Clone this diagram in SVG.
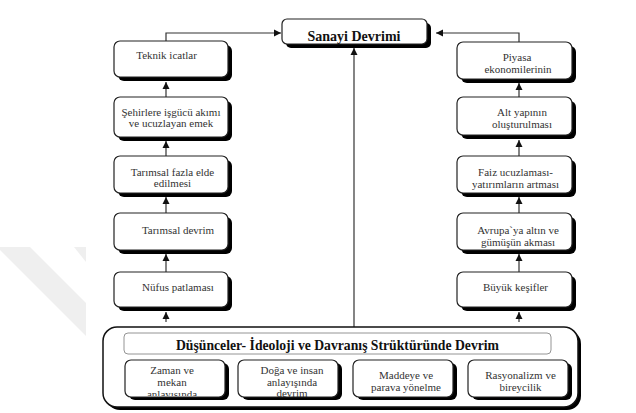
<svg xmlns="http://www.w3.org/2000/svg" width="636" height="413" viewBox="0 0 636 413">
<style>
.sh{fill:#000}
.bx{fill:#fff;stroke:#222;stroke-width:1.2}
text{font-family:"Liberation Serif","Times New Roman",serif}
.t{font-size:11px;fill:#333;text-anchor:middle}
.tb{font-weight:bold;fill:#111;text-anchor:middle}
.c{fill:none;stroke:#333;stroke-width:1.2}
</style>
<defs>
<marker id="ah" markerUnits="userSpaceOnUse" markerWidth="8" markerHeight="8" refX="7" refY="4" orient="auto">
<path d="M0,0.5 L7,4 L0,7.5 Z" fill="#111"/>
</marker>
<clipPath id="clipZ"><rect x="125" y="360" width="100" height="36"/></clipPath>
</defs>
<rect width="636" height="413" fill="#fff"/>
<g id="watermark" fill="#efefef">
<polygon points="0,247 30,247 86,303 86,336 0,250"/>
<polygon points="74,247 86,247 86,262"/>
</g>

<g id="connectors">
<path class="c" d="M166,41 V33 H281" marker-end="url(#ah)"/>
<path class="c" d="M519,42 V33 H436" marker-end="url(#ah)"/>
<path class="c" d="M354,327 V48" marker-end="url(#ah)"/>
<path class="c" d="M166,97 V82" marker-end="url(#ah)"/>
<path class="c" d="M166,156 V141" marker-end="url(#ah)"/>
<path class="c" d="M166,213 V197" marker-end="url(#ah)"/>
<path class="c" d="M166,272 V254" marker-end="url(#ah)"/>
<path class="c" d="M166,322 V312" marker-end="url(#ah)"/>
<path class="c" d="M519,97 V83" marker-end="url(#ah)"/>
<path class="c" d="M519,156 V140" marker-end="url(#ah)"/>
<path class="c" d="M519,213 V197" marker-end="url(#ah)"/>
<path class="c" d="M519,272 V254" marker-end="url(#ah)"/>
<path class="c" d="M519,322 V312" marker-end="url(#ah)"/>
</g>

<g id="sanayi">
<rect class="sh" x="286" y="23" width="145" height="25" rx="5"/>
<rect class="bx" x="282" y="19" width="145" height="25" rx="5"/>
<text class="tb" x="354" y="41" font-size="14">Sanayi Devrimi</text>
</g>

<g id="teknik">
<rect class="sh" x="118" y="45" width="114" height="36" rx="6"/>
<rect class="bx" x="114" y="41" width="114" height="36" rx="6"/>
<text class="t" x="166.5" y="59">Teknik icatlar</text>
</g>
<g id="sehirlere">
<rect class="sh" x="118" y="101" width="114" height="40" rx="6"/>
<rect class="bx" x="114" y="97" width="114" height="40" rx="6"/>
<text class="t" x="171" y="116" font-size="9">Şehirlere işgücü akımı</text>
<text class="t" x="171" y="127" font-size="9">ve ucuzlayan emek</text>
</g>
<g id="tarimsal-fazla">
<rect class="sh" x="118" y="160" width="114" height="37" rx="6"/>
<rect class="bx" x="114" y="156" width="114" height="37" rx="6"/>
<text class="t" x="172.5" y="176">Tarımsal fazla elde</text>
<text class="t" x="172.5" y="187">edilmesi</text>
</g>
<g id="tarimsal-devrim">
<rect class="sh" x="118" y="217" width="114" height="37" rx="6"/>
<rect class="bx" x="114" y="213" width="114" height="37" rx="6"/>
<text class="t" x="178" y="234">Tarımsal devrim</text>
</g>
<g id="nufus">
<rect class="sh" x="118" y="276" width="114" height="35" rx="6"/>
<rect class="bx" x="114" y="272" width="114" height="35" rx="6"/>
<text class="t" x="178" y="291">Nüfus patlaması</text>
</g>

<g id="piyasa">
<rect class="sh" x="461" y="46" width="115" height="37" rx="6"/>
<rect class="bx" x="457" y="42" width="115" height="37" rx="6"/>
<text class="t" x="517" y="61">Piyasa</text>
<text class="t" x="518" y="73">ekonomilerinin</text>
</g>
<g id="altyapi">
<rect class="sh" x="461" y="101" width="115" height="38" rx="6"/>
<rect class="bx" x="457" y="97" width="115" height="38" rx="6"/>
<text class="t" x="522" y="116" font-size="10.5">Alt yapının</text>
<text class="t" x="522" y="127.5" font-size="10.5">oluşturulması</text>
</g>
<g id="faiz">
<rect class="sh" x="461" y="160" width="115" height="37" rx="6"/>
<rect class="bx" x="457" y="156" width="115" height="37" rx="6"/>
<text class="t" x="515.5" y="176" font-size="10.5">Faiz ucuzlaması-</text>
<text class="t" x="515.5" y="187.5" font-size="10.5">yatırımların artması</text>
</g>
<g id="avrupa">
<rect class="sh" x="461" y="217" width="115" height="37" rx="6"/>
<rect class="bx" x="457" y="213" width="115" height="37" rx="6"/>
<text class="t" x="518" y="234">Avrupa`ya altın ve</text>
<text class="t" x="518" y="245.5">gümüşün akması</text>
</g>
<g id="buyuk">
<rect class="sh" x="461" y="276" width="115" height="35" rx="6"/>
<rect class="bx" x="457" y="272" width="115" height="35" rx="6"/>
<text class="t" x="515.5" y="291" font-size="10">Büyük keşifler</text>
</g>

<g id="dusunceler">
<rect class="sh" x="106" y="330" width="475" height="80" rx="14"/>
<rect fill="#fff" stroke="#111" stroke-width="1.5" x="103" y="327" width="475" height="80" rx="14"/>
<rect fill="#fff" stroke="#888" stroke-width="0.9" x="124" y="333" width="427" height="21" rx="4"/>
<text class="tb" x="337.5" y="349.5" font-size="13.7">Düşünceler- İdeoloji ve Davranış Strüktüründe Devrim</text>
</g>
<g id="zaman">
<rect class="sh" x="129" y="363" width="100" height="37" rx="6"/>
<rect class="bx" x="125" y="360" width="100" height="37" rx="6"/>
<g clip-path="url(#clipZ)">
<text class="t" x="172" y="374">Zaman ve</text>
<text class="t" x="172" y="386">mekan</text>
<text class="t" x="172" y="398">anlayışında</text>
</g>
</g>
<g id="doga">
<rect class="sh" x="242" y="363" width="100" height="37" rx="6"/>
<rect class="bx" x="238" y="360" width="100" height="37" rx="6"/>
<text class="t" x="292" y="373.5">Doğa ve insan</text>
<text class="t" x="292" y="385.5">anlayışında</text>
<text class="t" x="292" y="396.5">devrim</text>
</g>
<g id="maddeye">
<rect class="sh" x="357" y="363" width="100" height="37" rx="6"/>
<rect class="bx" x="353" y="360" width="100" height="37" rx="6"/>
<text class="t" x="406" y="379">Maddeye ve</text>
<text class="t" x="406" y="391">parava yönelme</text>
</g>
<g id="rasyonalizm">
<rect class="sh" x="472" y="363" width="100" height="37" rx="6"/>
<rect class="bx" x="468" y="360" width="100" height="37" rx="6"/>
<text class="t" x="520.5" y="379">Rasyonalizm ve</text>
<text class="t" x="520.5" y="391">bireycilik</text>
</g>
</svg>
